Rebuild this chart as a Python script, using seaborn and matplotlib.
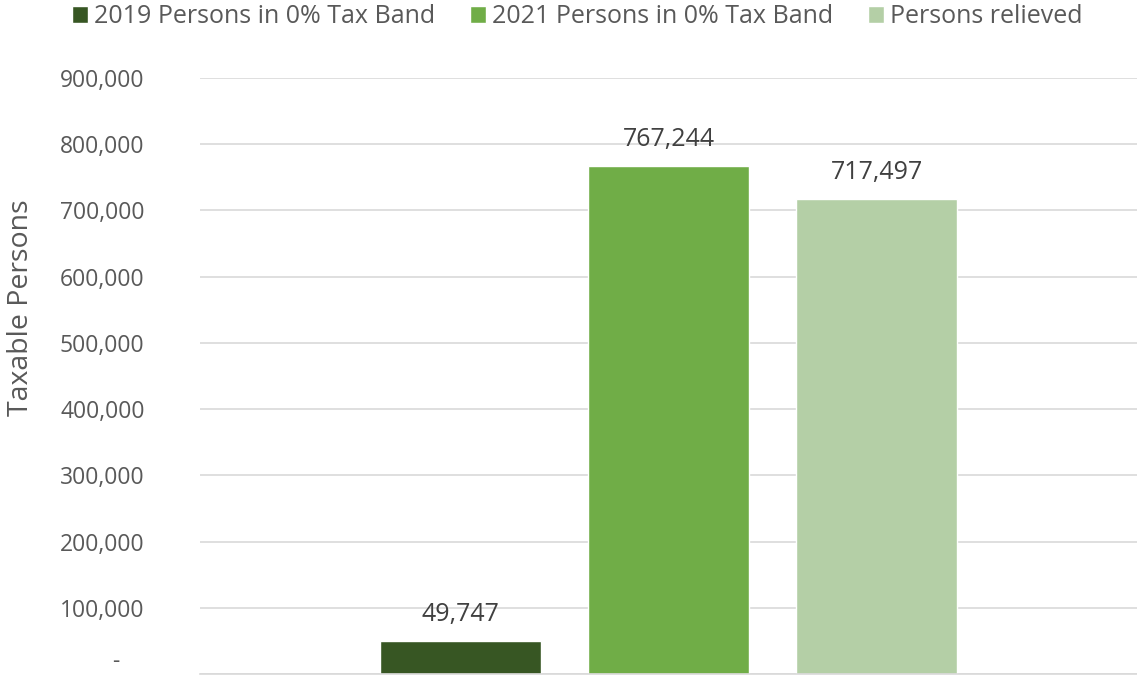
import matplotlib
matplotlib.use("Agg")
import matplotlib.pyplot as plt
import seaborn as sns
import pandas as pd
from matplotlib.ticker import FuncFormatter
from matplotlib.patches import Patch

series = ["2019 Persons in 0% Tax Band", "2021 Persons in 0% Tax Band", "Persons relieved"]
values = [49747, 767244, 717497]
colors = ["#375623", "#70AD47", "#B4CFA6"]
category = ["Persons"] * 3

df = pd.DataFrame({"cat": category, "series": series, "value": values})

sns.set_theme(style="white")
plt.rcParams["font.family"] = ["Open Sans", "DejaVu Sans"]

fig = plt.figure(figsize=(11.37, 6.77), dpi=100)
ax = fig.add_axes([0.176, 0.0044, 0.824, 0.8804])

sns.barplot(data=df, x="cat", y="value", hue="series", palette=colors,
            width=0.666, gap=0.225, ax=ax, legend=False, saturation=1)

ax.set_xlim(-0.5, 0.5)
ax.set_ylim(0, 900000)
ax.set_yticks(range(0, 900001, 100000))
ax.yaxis.set_major_formatter(FuncFormatter(lambda v, p: "-    " if v == 0 else f"{int(v):,}"))
ax.tick_params(axis="y", labelsize=16.5, labelcolor="#595959", length=0, pad=40)
ax.set_xticks([])
ax.set_xlabel("")
ax.set_ylabel("Taxable Persons", fontsize=20.5, color="#595959")
ax.yaxis.set_label_coords(-0.176, 0.614)
ax.grid(axis="y", color="#D9D9D9", linewidth=1.2)
ax.set_axisbelow(True)
for s in ["top", "right", "left"]:
    ax.spines[s].set_visible(False)
ax.spines["bottom"].set_color("#D9D9D9")
ax.spines["bottom"].set_linewidth(1.2)

for lbl in ax.get_yticklabels():
    if lbl.get_text().strip() == "-":
        lbl.set_verticalalignment("bottom")

for c in ax.containers:
    ax.bar_label(c, labels=[f"{int(v):,}" for v in c.datavalues],
                 padding=10, fontsize=18, color="#404040")

handles = [Patch(facecolor=col, label=s) for col, s in zip(colors, series)]
fig.legend(handles=handles, loc="upper center", bbox_to_anchor=(0.508, 1.027), ncol=3,
           frameon=False, fontsize=18, labelcolor="#595959",
           handlelength=0.63, handleheight=0.63, handletextpad=0.25, columnspacing=1.4)

fig.savefig("out.png", dpi=100)
